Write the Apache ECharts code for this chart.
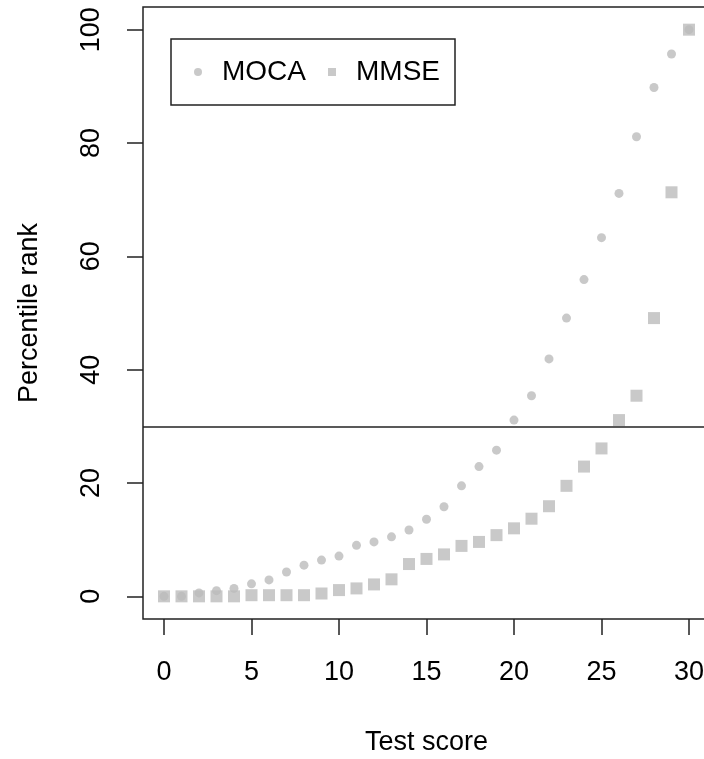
<!DOCTYPE html>
<html>
<head>
<meta charset="utf-8">
<script src="https://cdn.jsdelivr.net/npm/echarts@6/dist/echarts.min.js"></script>
<style>
  html, body { margin: 0; padding: 0; background: #fff; }
  #main { width: 704px; height: 759px; }
</style>
</head>
<body>
<div id="main"></div>
<script>
// test scores 0..30
var scores = [0, 1, 2, 3, 4, 5, 6, 7, 8, 9, 10, 11, 12, 13, 14, 15,
  16, 17, 18, 19, 20, 21, 22, 23, 24, 25, 26, 27, 28, 29, 30];
// percentile rank
var moca = [0, 0, 0.6, 1.0, 1.4, 2.2, 2.9, 4.3, 5.5, 6.4, 7.1, 9.0, 9.6, 10.5, 11.7, 13.6,
  15.8, 19.5, 22.9, 25.8, 31.1, 35.4, 41.9, 49.1, 55.9, 63.3, 71.1, 81.1, 89.8, 95.7, 100];
var mmse = [0, 0, 0, 0, 0, 0.2, 0.2, 0.2, 0.2, 0.5, 1.1, 1.4, 2.1, 3.0, 5.7, 6.6,
  7.4, 8.9, 9.6, 10.8, 12.0, 13.7, 15.9, 19.5, 22.9, 26.1, 31.1, 35.4, 49.1, 71.3, 100];
var xTicks = [0, 5, 10, 15, 20, 25, 30];
var yTicks = [0, 20, 40, 60, 80, 100];
var cutoff = 30;

var font = "'Liberation Sans', Arial, sans-serif";
var grey = "#bbbbbb";

function pairs(vals) {
  return scores.map(function (s, i) { return [s, vals[i]]; });
}

var myChart = echarts.init(document.getElementById("main"));
myChart.setOption({
  animation: false,
  textStyle: { fontFamily: font, color: "#000" },
  grid: {
    left: 143, top: 7, bottom: 140, right: -6,
    outerBoundsMode: "none",
    show: true, borderColor: "#222", borderWidth: 1.5, containLabel: false
  },
  legend: {
    left: 171, top: 39,
    orient: "horizontal",
    borderColor: "#222", borderWidth: 1.5,
    padding: [19, 15, 19, 23],
    itemGap: 22,
    itemWidth: 8, itemHeight: 8,
    textStyle: { fontSize: 28, fontFamily: font, color: "#000", padding: [0, 0, 0, 15] },
    data: [
      { name: "MOCA", icon: "circle" },
      { name: "MMSE", icon: "rect" }
    ]
  },
  xAxis: {
    type: "value",
    min: -1.2, max: 31.2,
    name: "Test score",
    nameLocation: "middle",
    nameGap: 110,
    nameTextStyle: { fontSize: 27, fontFamily: font, color: "#000" },
    splitLine: { show: false },
    axisLine: { show: false, onZero: false },
    axisTick: { show: true, length: 16, customValues: xTicks, lineStyle: { color: "#222", width: 1.5 } },
    axisLabel: { customValues: xTicks, fontSize: 27, fontFamily: font, color: "#000", margin: 40 }
  },
  yAxis: {
    type: "value",
    min: -4, max: 104,
    name: "Percentile rank",
    nameLocation: "middle",
    nameGap: 100,
    nameRotate: 90,
    nameTextStyle: { fontSize: 27, fontFamily: font, color: "#000" },
    splitLine: { show: false },
    axisLine: { show: false, onZero: false },
    axisTick: { show: true, length: 16, customValues: yTicks, lineStyle: { color: "#222", width: 1.5 } },
    axisLabel: { customValues: yTicks, rotate: 90, fontSize: 27, fontFamily: font, color: "#000", margin: 38 }
  },
  series: [
    {
      name: "MOCA",
      type: "scatter",
      symbol: "circle",
      symbolSize: 9,
      itemStyle: { color: grey },
      data: pairs(moca),
      markLine: {
        silent: true,
        symbol: "none",
        label: { show: false },
        lineStyle: { color: "#222", width: 1.5, type: "solid" },
        data: [{ yAxis: cutoff }]
      }
    },
    {
      name: "MMSE",
      type: "scatter",
      symbol: "rect",
      symbolSize: 12,
      itemStyle: { color: grey },
      data: pairs(mmse)
    }
  ]
});
</script>
</body>
</html>
